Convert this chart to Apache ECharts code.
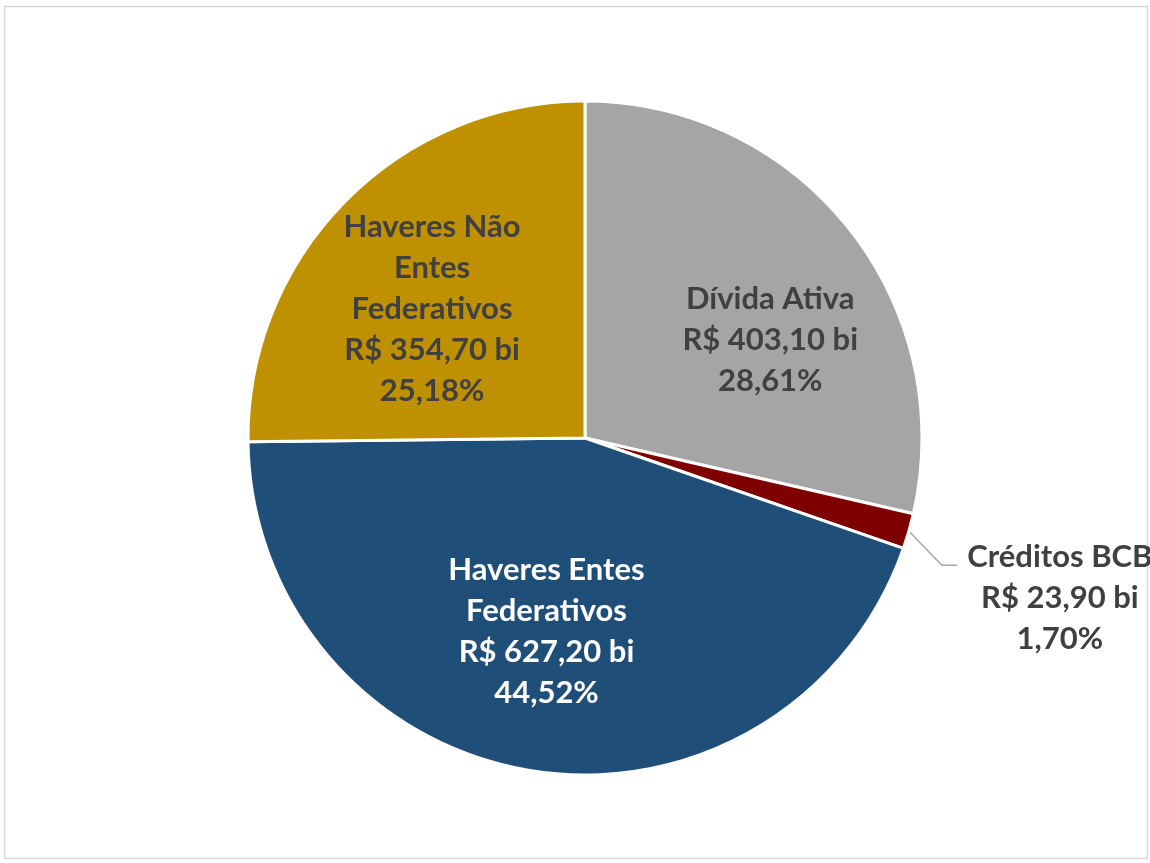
<!DOCTYPE html>
<html>
<head>
<meta charset="utf-8">
<script src="https://cdn.jsdelivr.net/npm/echarts@6/dist/echarts.min.js"></script>
<style>
  html, body { margin: 0; padding: 0; background: #ffffff; }
  #chart { width: 1150px; height: 863px; }
</style>
</head>
<body>
<div id="chart"></div>
<script>
// Composition of the portfolio (R$ billions)
const categories = ['Dívida Ativa', 'Créditos BCB', 'Haveres Entes Federativos', 'Haveres Não Entes Federativos'];
const values = [403.10, 23.90, 627.20, 354.70];
// How each category name is broken over lines in its label
const nameLines = [
  ['Dívida Ativa'],
  ['Créditos BCB'],
  ['Haveres Entes', 'Federativos'],
  ['Haveres Não', 'Entes', 'Federativos']
];
const colors = ['#A5A5A5', '#7E0000', '#1F4E79', '#BF9000'];
const textColors = ['#404040', '#404040', '#ffffff', '#404040'];

// Nudges that place the inside labels in the slices
const insideShift = { 0: [51, 9], 2: [-11, 24], 3: [-31, -8] };

const total = values.reduce((a, b) => a + b, 0);
function brl(v) { return v.toFixed(2).replace('.', ','); }

const chart = echarts.init(document.getElementById('chart'), null, { renderer: 'canvas' });

const data = categories.map((name, i) => ({
  name: name,
  value: values[i],
  itemStyle: { color: colors[i] },
  label: {
    position: i === 1 ? 'outside' : 'inside',
    color: textColors[i]
  },
  labelLine: { show: i === 1 }
}));

const font = { fontFamily: 'Lato', fontWeight: 'bold', fontSize: 31, lineHeight: 41 };

chart.setOption({
  animation: false,
  backgroundColor: '#ffffff',
  graphic: [{
    type: 'rect',
    z: -10,
    shape: { x: 4.5, y: 6.5, width: 1143, height: 852 },
    style: { fill: 'none', stroke: '#D9D9D9', lineWidth: 1.5 }
  }],
  series: [{
    type: 'pie',
    center: [585, 438],
    radius: [0, 337],
    startAngle: 90,
    clockwise: true,
    avoidLabelOverlap: false,
    itemStyle: { borderColor: '#ffffff', borderWidth: 3 },
    label: Object.assign({
      show: true,
      align: 'center',
      formatter: function (p) {
        const lines = nameLines[p.dataIndex].concat([
          'R$ ' + brl(p.value) + ' bi',
          brl(p.value / total * 100) + '%'
        ]);
        return lines.map(t => '{c|' + t + '}').join('\n');
      },
      rich: { c: Object.assign({ align: 'center' }, font) }
    }, font),
    labelLine: {
      length: 10,
      length2: 15,
      lineStyle: { color: '#A6A6A6', width: 1.5 }
    },
    labelLayout: function (p) {
      if (p.dataIndex === 1 && p.labelLinePoints) {
        const p0 = p.labelLinePoints[0];
        const p1 = [p0[0] + 33, p0[1] + 34];
        const p2 = [p1[0] + 15, p1[1]];
        return {
          x: p2[0] + 103,
          y: p2[1] + 33,
          align: 'center',
          verticalAlign: 'middle',
          labelLinePoints: [p0, p1, p2]
        };
      }
      const s = insideShift[p.dataIndex];
      return s ? { dx: s[0], dy: s[1] } : {};
    },
    data: data
  }]
});
</script>
</body>
</html>
